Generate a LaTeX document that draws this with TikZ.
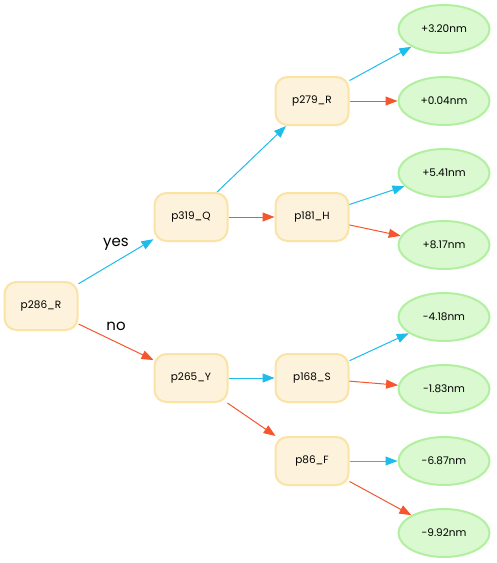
\documentclass[tikz,border=0pt]{standalone}
\usepackage{fontspec}
\setmainfont{Poppins}
\usetikzlibrary{arrows.meta,shapes.geometric}
\definecolor{boxfill}{HTML}{FDF3DC}
\definecolor{boxline}{HTML}{FBE3A6}
\definecolor{leaffill}{HTML}{DAF9D0}
\definecolor{leafline}{HTML}{B2EFA0}
\definecolor{yesblue}{HTML}{1EBCEB}
\definecolor{nored}{HTML}{F4572E}
\tikzset{
  dnode/.style={draw=boxline, fill=boxfill, line width=2pt, rounded corners=12pt,
    minimum width=73pt, minimum height=48pt, inner sep=0pt, font=\fontsize{10.5}{12}\selectfont},
  leaf/.style={draw=leafline, fill=leaffill, line width=2pt, ellipse,
    minimum width=91pt, minimum height=48pt, inner sep=0pt, font=\fontsize{10.5}{12}\selectfont},
  yesedge/.style={draw=yesblue, line width=1pt, -{Triangle[length=12pt,width=9pt]}},
  noedge/.style={draw=nored, line width=1pt, -{Triangle[length=12pt,width=9pt]}},
  elabel/.style={font=\fontsize{15}{16}\selectfont, inner sep=0pt}
}
\begin{document}
\begin{tikzpicture}[x=1pt,y=-1pt]
\useasboundingbox (0,0) rectangle (497,563);
\node[dnode] (r) at (41,306) {p286\_R};
\node[dnode] (q) at (191,217) {p319\_Q};
\node[dnode] (y) at (191,378) {p265\_Y};
\node[dnode] (r2) at (312,101) {p279\_R};
\node[dnode] (h) at (312,217) {p181\_H};
\node[dnode] (s) at (312,378) {p168\_S};
\node[dnode] (f) at (312,461) {p86\_F};
\node[leaf] (l1) at (444,29) {+3.20nm};
\node[leaf] (l2) at (444,101) {+0.04nm};
\node[leaf] (l3) at (444,173) {+5.41nm};
\node[leaf] (l4) at (444,245) {+8.17nm};
\node[leaf] (l5) at (444,317) {-4.18nm};
\node[leaf] (l6) at (444,389) {-1.83nm};
\node[leaf] (l7) at (444,461) {-6.87nm};
\node[leaf] (l8) at (444,533) {-9.92nm};
\node[elabel] (ly) at (116,244) {yes};
\node[elabel] (ln) at (116,326) {no};
\draw[yesedge] (r) -- (q);
\draw[noedge] (r) -- (y);
\draw[yesedge] (q) -- (r2);
\draw[noedge] (q) -- (h);
\draw[yesedge] (y) -- (s);
\draw[noedge] (y) -- (f);
\draw[yesedge] (r2) -- (l1);
\draw[noedge] (r2) -- (l2);
\draw[yesedge] (h) -- (l3);
\draw[noedge] (h) -- (l4);
\draw[yesedge] (s) -- (l5);
\draw[noedge] (s) -- (l6);
\draw[yesedge] (f) -- (l7);
\draw[noedge] (f) -- (l8);
\end{tikzpicture}
\end{document}
